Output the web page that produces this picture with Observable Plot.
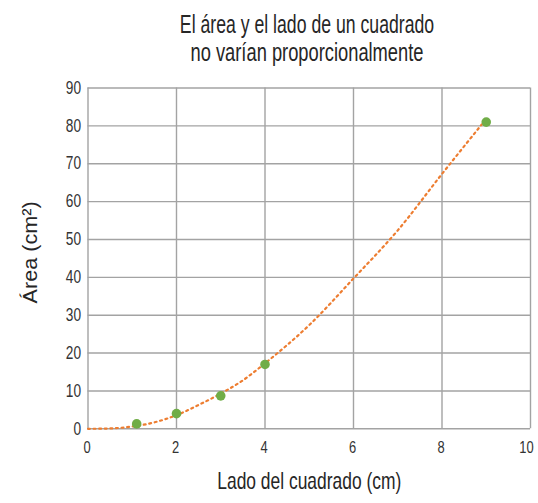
<!DOCTYPE html>
<html>
<head>
<meta charset="utf-8">
<script src="https://cdn.jsdelivr.net/npm/d3@7"></script>
<script src="https://cdn.jsdelivr.net/npm/@observablehq/plot@0.6"></script>
<style>
  body { margin: 0; background: #fff; }
  #wrap { position: relative; width: 538px; height: 503px; overflow: hidden; background: #fff; }
  #title { position: relative; width: 538px; height: 75px; }
  #title .line { position: absolute; left: 307px; white-space: nowrap; font-family: "Liberation Sans Narrow", sans-serif; font-size: 26px; line-height: 28px; color: #262626; transform-origin: 0 50%; }
</style>
</head>
<body>
<div id="wrap">
  <div id="title"></div>
  <div id="chart"></div>
</div>
<script>
// ---- data ----
const titleLines = ["El área y el lado de un cuadrado", "no varían proporcionalmente"];
const xLabel = "Lado del cuadrado (cm)";
const yLabel = "Área (cm²)";
const xTicks = [0, 2, 4, 6, 8, 10];
const yTicks = [0, 10, 20, 30, 40, 50, 60, 70, 80, 90];
// measured points (lado, área)
const side = [1.1, 2, 3, 4, 9];
const area = [1.3, 4, 8.7, 17, 81];
// dotted trend line
const trendSide = [0, 0.5, 1, 1.5, 2, 2.5, 3, 3.5, 4, 5, 6, 7, 8, 8.9];
const trendArea = [0, 0.1, 0.6, 1.7, 3.6, 6.3, 9.3, 12.8, 17.3, 27.4, 39.7, 52.4, 67.3, 80.4];

const points = side.map((x, i) => ({x, y: area[i]}));
const trend = trendSide.map((x, i) => ({x, y: trendArea[i]}));

// ---- title ----
const titleDiv = document.getElementById("title");
const titleTargets = [254, 233];
const titleTops = [10, 38];
titleLines.forEach((t, i) => {
  const d = document.createElement("div");
  d.className = "line";
  d.textContent = t;
  d.style.top = titleTops[i] + "px";
  titleDiv.appendChild(d);
  const w = d.offsetWidth;
  const k = titleTargets[i] / w;
  d.style.transform = `scaleX(${k}) translateX(-50%)`;
});

// ---- chart ----
const gridStyle = {stroke: "#a3a3a3", strokeOpacity: 1, strokeWidth: 1.4};
const xAxisStyle = {tickSize: 0, tickPadding: 12, fontSize: 17, label: null};
const plot = Plot.plot({
  width: 538,
  height: 428,
  marginTop: 12.5,
  marginBottom: 74.7,
  marginLeft: 87.5,
  marginRight: 8,
  style: {fontFamily: "Liberation Sans Narrow, sans-serif", fontSize: "18px", color: "#333", background: "#fff", overflow: "visible"},
  x: {domain: [0, 10], label: null},
  y: {domain: [0, 90], label: null},
  marks: [
    Plot.gridX(xTicks, gridStyle),
    Plot.gridY(yTicks, gridStyle),
    Plot.axisX(xTicks.slice(0, -1), {...xAxisStyle, dx: -1}),
    Plot.axisX(xTicks.slice(-1), {...xAxisStyle, dx: -4}),
    Plot.axisY(yTicks, {tickSize: 0, tickPadding: 7, fontSize: 18, label: null}),
    Plot.line(trend, {x: "x", y: "y", curve: "monotone-x", stroke: "#ed7d31", strokeWidth: 2.2, strokeDasharray: "1.9,3.7"}),
    Plot.dot(points, {x: "x", y: "y", r: 4.8, fill: "#70ad47", stroke: "none"}),
    Plot.text([xLabel], {frameAnchor: "bottom", dy: 60, fontSize: 24, fill: "#262626"}),
    Plot.text([yLabel], {frameAnchor: "left", rotate: -90, dx: -58, dy: 45, fontSize: 21, fill: "#262626"})
  ]
});
document.getElementById("chart").appendChild(plot);

// condense text to mimic the narrow typeface of the original
const svg = d3.select(plot);
svg.selectAll("text").each(function () {
  const len = this.getComputedTextLength();
  const txt = this.textContent;
  let target;
  if (txt === xLabel) target = 184;
  else if (txt === yLabel) target = 102;
  else target = len * 0.76;
  this.setAttribute("textLength", target);
  this.setAttribute("lengthAdjust", "spacingAndGlyphs");
});
</script>
</body>
</html>
